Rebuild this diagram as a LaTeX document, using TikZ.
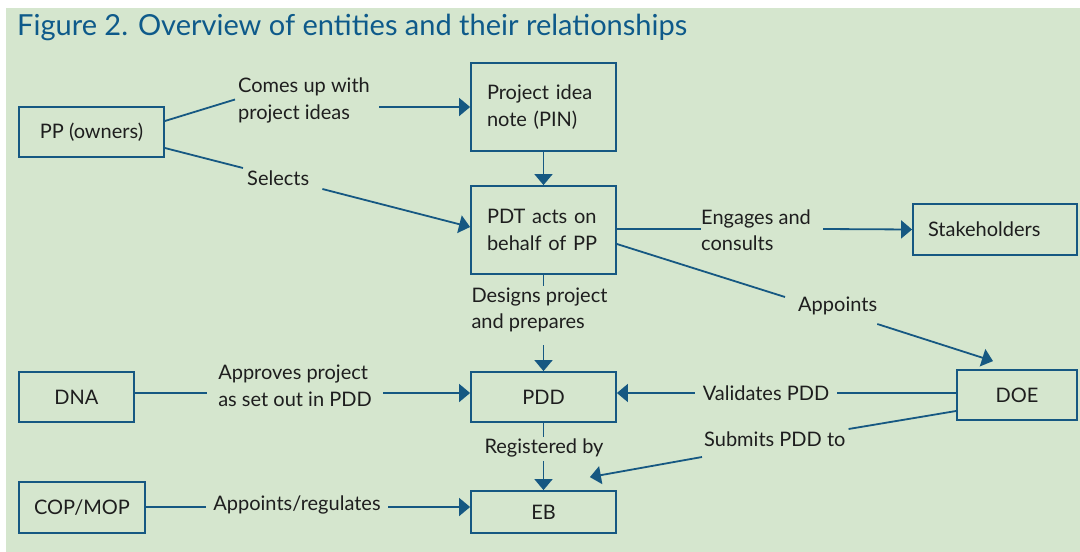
\documentclass[tikz,border=0pt]{standalone}
\usepackage{fontspec}
\setmainfont{Lato}
\usetikzlibrary{arrows.meta}
\definecolor{bg}{RGB}{213,230,206}
\definecolor{ln}{RGB}{22,88,130}
\definecolor{ttl}{RGB}{14,90,138}
\definecolor{txt}{RGB}{30,30,30}
\newcommand\bodyfnt{\fontsize{20}{26.5}\selectfont}
\newcommand\titlefnt{\fontsize{29}{33}\selectfont}
\begin{document}
\begin{tikzpicture}[x=1pt,y=-1pt,
  box/.style={draw=ln, line width=1.8pt, text=txt, font=\bodyfnt, inner sep=0pt},
  lbl/.style={text=txt, font=\bodyfnt, inner sep=0pt, align=left},
  flbl/.style={lbl, fill=bg, inner xsep=8pt},
  conn/.style={draw=ln, line width=1.8pt},
  arr/.style={conn, -{Triangle[length=11pt,width=18pt]}},
]
\fill[white] (0,0) rectangle (1080,552);
\fill[bg] (6,8) rectangle (1080,552);
\useasboundingbox (0,0) rectangle (1080,552);

\node[anchor=base west, text=ttl, font=\titlefnt, inner sep=0pt] (title) at (17,35) {Figure 2. Overview of entities and their relationships};

% boxes
\node[box, minimum width=145, minimum height=50] (pp) at (91.5,132) {PP (owners)};
\node[box, minimum width=145, minimum height=88, text width=113, inner xsep=16pt, align=left] (pin) at (543.5,107) {Project idea\\note (PIN)};
\node[box, minimum width=145, minimum height=88, text width=113, inner xsep=16pt, align=left] (pdt) at (543.5,230) {PDT acts on\\behalf of PP};
\node[box, minimum width=164, minimum height=51, text width=134, inner xsep=15pt, align=left] (stake) at (995,229.5) {Stakeholders};
\node[box, minimum width=120, minimum height=50] (doe) at (1017,395) {DOE};
\node[box, minimum width=115, minimum height=50] (dna) at (76.5,397) {DNA};
\node[box, minimum width=145, minimum height=50] (pdd) at (543.5,397) {PDD};
\node[box, minimum width=126, minimum height=51] (cop) at (82,507.5) {COP/MOP};
\node[box, minimum width=145, minimum height=42] (eb) at (543.5,512) {EB};

% straight connectors covered by filled labels
\draw[arr] ([yshift=4pt]dna.east) -- ([yshift=4pt]pdd.west);
\draw[arr] ([yshift=2pt]doe.west) -- ([yshift=4pt]pdd.east);
\draw[arr] ([yshift=0.5pt]cop.east) -- ([yshift=5pt]eb.west);
\node[flbl, inner xsep=11.5pt] (l6) at (295,386) {Approves project\\as set out in PDD};
\node[flbl] (l8) at (766,393) {Validates PDD};
\node[flbl, inner xsep=7.5pt] (l10) at (297,505) {Appoints/regulates};

% labels
\node[lbl, anchor=west] (l1) at (238,100.5) {Comes up with\\project ideas};
\node[lbl, anchor=west] (l2) at (247,178) {Selects};
\node[lbl, anchor=west] (l3) at (701,230) {Engages and\\consults};
\node[lbl, anchor=west] (l4) at (798,306) {Appoints};
\node[lbl] (l5) at (539.5,310) {Designs project\\and prepares};
\node[lbl] (l7) at (544,447.5) {Registered by};
\node[lbl, anchor=west] (l9) at (704,439) {Submits PDD to};

% connectors
\coordinate (c1) at ([xshift=9pt]l1.east);
\draw[conn] ([yshift=11pt]pp.east) -- ([shift={(-3pt,1pt)}]l1.west);
\draw[arr] (c1 |- pin.west) -- (pin.west);
\draw[conn] ([yshift=-16pt]pp.east) -- ([shift={(-4pt,10pt)}]l2.west);
\draw[arr] ([shift={(13pt,-11pt)}]l2.east) -- ([yshift=3pt]pdt.west);
\draw[arr] (pin.south) -- (pdt.north);
\draw[conn] ([yshift=1pt]pdt.east) -- ([yshift=1pt]l3.west);
\draw[arr] ([shift={(12pt,1pt)}]l3.east) -- (stake.west);
\draw[conn] ([yshift=-14pt]pdt.east) -- ([shift={(-13pt,9pt)}]l4.west);
\draw[arr] ([yshift=-18pt]l4.east) -- ([shift={(-24pt,8pt)}]doe.north);
\draw[conn, shorten >=2pt] (pdt.south) -- (pdt.south |- l5.north);
\draw[arr, shorten <=13pt] (pdd.north |- l5.south) -- (pdd.north);
\draw[conn, shorten >=1pt] (pdd.south) -- (pdd.south |- l7.north);
\draw[arr, shorten <=4pt] (eb.north |- l7.south) -- (eb.north);
\draw[conn] ([yshift=-16pt]doe.west) -- ([shift={(3pt,10pt)}]l9.east);
\draw[arr] ([shift={(-2pt,-18pt)}]l9.west) -- ([shift={(-27pt,13pt)}]eb.north east);
\end{tikzpicture}
\end{document}
